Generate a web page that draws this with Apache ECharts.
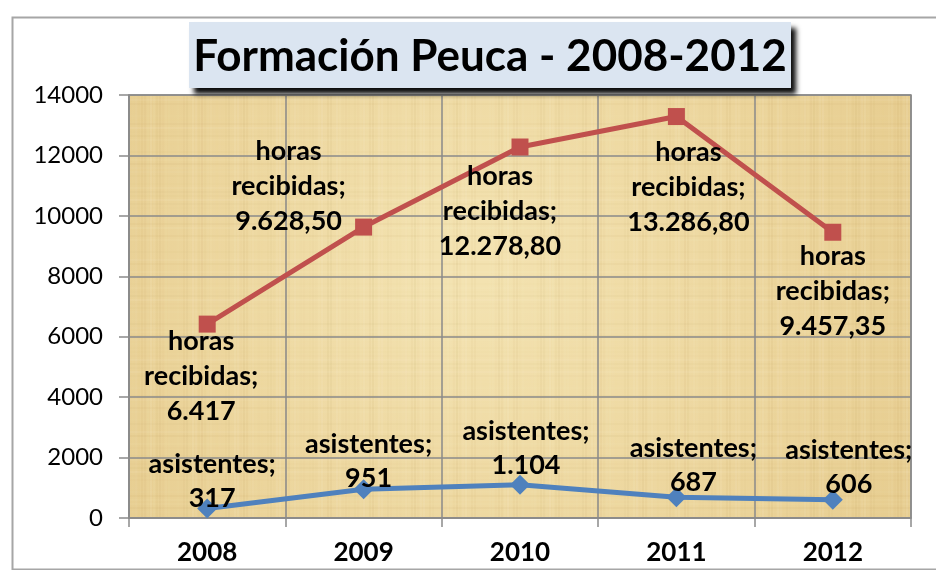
<!DOCTYPE html>
<html>
<head>
<meta charset="utf-8">
<script src="https://cdn.jsdelivr.net/npm/echarts@6/dist/echarts.min.js"></script>
<style>
  html, body { margin: 0; padding: 0; background: #fff; }
  #chart { width: 936px; height: 570px; }
</style>
</head>
<body>
<div id="chart"></div>
<script>
// datos
const years = ["2008", "2009", "2010", "2011", "2012"];
const horas = [6417, 9628.5, 12278.8, 13286.8, 9457.35];
const asistentes = [317, 951, 1104, 687, 606];
const yTicks = { min: 0, max: 14000, step: 2000 };

// desplazamiento de cada etiqueta respecto a su punto (px)
const horasLabelOffset = [[-6, 52], [-75, -41], [-20, 64], [12, 71], [0, 59]];
const asistLabelOffset = [[5, -27], [5, -28], [6, -36], [17, -32], [16, -32]];

// formato espanol: 9.628,50 / 6.417
function fmt(v) {
  let s = Number.isInteger(v) ? String(v) : v.toFixed(2);
  let parts = s.split(".");
  let ent = parts[0].replace(/\B(?=(\d{3})+(?!\d))/g, ".");
  return parts.length > 1 ? ent + "," + parts[1] : ent;
}

// textura tipo papiro para el fondo del area de trazado
function papiro(w, h) {
  const c = document.createElement("canvas");
  c.width = w; c.height = h;
  const g = c.getContext("2d");
  const grad = g.createRadialGradient(330, 170, 30, 390, 210, 520);
  grad.addColorStop(0, "#f3e2b0");
  grad.addColorStop(0.55, "#ecd59c");
  grad.addColorStop(1, "#e4c98a");
  g.fillStyle = grad;
  g.fillRect(0, 0, w, h);
  for (let x = 0; x < w; x += 3) {
    const a = Math.sin(x * 0.37) * Math.sin(x * 0.071);
    g.fillStyle = a > 0 ? "rgba(255,248,220," + a * 0.12 + ")" : "rgba(170,130,60," + -a * 0.07 + ")";
    g.fillRect(x, 0, 2, h);
  }
  for (let y = 0; y < h; y += 4) {
    const a = Math.sin(y * 0.53) * Math.cos(y * 0.093);
    g.fillStyle = a > 0 ? "rgba(255,248,220," + a * 0.1 + ")" : "rgba(170,130,60," + -a * 0.06 + ")";
    g.fillRect(0, y, w, 2);
  }
  return c;
}

const labelFont = {
  fontFamily: "Lato",
  fontWeight: "bold",
  fontSize: 27,
  lineHeight: 35,
  color: "#000",
};

const myChart = echarts.init(document.getElementById("chart"));

const option = {
  backgroundColor: "#fff",
  animation: false,
  graphic: [
    {
      type: "rect",
      left: 10, top: 15,
      shape: { width: 940, height: 552 },
      style: { fill: "none", stroke: "#a6a6a6", lineWidth: 2 },
      z: 0,
    },
    {
      type: "image",
      left: 129, top: 95,
      style: { image: papiro(782, 423), width: 782, height: 423 },
      z: -1,
    },
    {
      type: "rect",
      left: 189, top: 22,
      shape: { width: 602, height: 66 },
      style: {
        fill: "#dbe5f1",
        shadowBlur: 5,
        shadowColor: "rgba(0,0,0,0.95)",
        shadowOffsetX: 5,
        shadowOffsetY: 6,
      },
      z: 100,
    },
    {
      type: "text",
      x: 490, y: 57,
      style: {
        text: "Formación Peuca - 2008-2012",
        fontFamily: "Lato",
        fontWeight: "bold",
        fontSize: 44,
        fill: "#000",
        align: "center",
        verticalAlign: "middle",
      },
      z: 101,
    },
  ],
  grid: {
    left: 129, top: 95, right: 25, bottom: 52,
    show: true,
    backgroundColor: "transparent",
    borderColor: "#8a8a8a",
    borderWidth: 1.5,
  },
  xAxis: {
    type: "category",
    data: years,
    boundaryGap: true,
    axisLine: { show: true, lineStyle: { color: "#8a8a8a", width: 1.5 } },
    axisTick: { show: true, length: 9, lineStyle: { color: "#8a8a8a", width: 1.5 } },
    splitLine: { show: true, lineStyle: { color: "#8a8a8a", width: 1.5 } },
    axisLabel: {
      margin: 22,
      fontFamily: "Lato",
      fontWeight: "bold",
      fontSize: 26,
      color: "#000",
    },
  },
  yAxis: {
    type: "value",
    min: yTicks.min,
    max: yTicks.max,
    interval: yTicks.step,
    axisLine: { show: true, lineStyle: { color: "#8a8a8a", width: 1.5 } },
    axisTick: { show: true, length: 10, lineStyle: { color: "#8a8a8a", width: 1.5 } },
    splitLine: { show: true, lineStyle: { color: "#8a8a8a", width: 1.5 } },
    axisLabel: {
      margin: 26,
      fontFamily: "Lato",
      fontSize: 24,
      color: "#000",
      formatter: (v) => String(v),
    },
  },
  series: [
    {
      name: "horas recibidas",
      type: "line",
      data: horas.map((v, i) => ({
        value: v,
        label: { offset: horasLabelOffset[i] },
      })),
      symbol: "rect",
      symbolSize: 17,
      lineStyle: { color: "#c0504d", width: 5 },
      itemStyle: { color: "#c0504d" },
      label: Object.assign({
        show: true,
        position: "inside",
        align: "center",
        verticalAlign: "middle",
        formatter: (p) => "horas\nrecibidas;\n" + fmt(p.value),
      }, labelFont),
      z: 3,
    },
    {
      name: "asistentes",
      type: "line",
      data: asistentes.map((v, i) => ({
        value: v,
        label: { offset: asistLabelOffset[i] },
      })),
      symbol: "diamond",
      symbolSize: 20,
      lineStyle: { color: "#4f81bd", width: 5 },
      itemStyle: { color: "#4f81bd" },
      label: Object.assign({
        show: true,
        position: "inside",
        align: "center",
        verticalAlign: "middle",
        formatter: (p) => "asistentes;\n" + fmt(p.value),
      }, labelFont, { lineHeight: 34 }),
      z: 3,
    },
  ],
};

myChart.setOption(option);
</script>
</body>
</html>
